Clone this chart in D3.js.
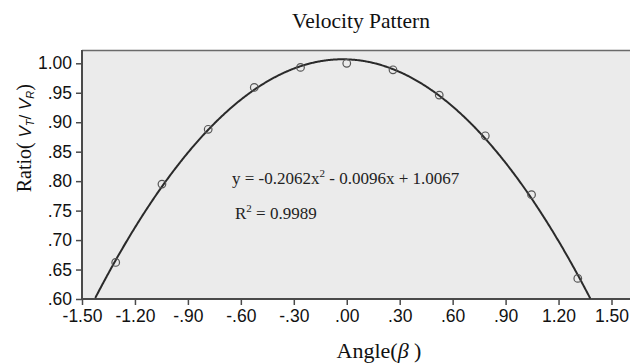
<!DOCTYPE html>
<html>
<head>
<meta charset="utf-8">
<script src="https://cdn.jsdelivr.net/npm/d3@7"></script>
<style>
  html, body { margin: 0; padding: 0; background: #fff; }
  svg { display: block; }
</style>
</head>
<body>
<svg id="chart" width="630" height="363"></svg>
<script>
// Measured velocity ratio at each angle (radians, 15° steps)
const angles = [-1.309, -1.047, -0.785, -0.524, -0.262, 0.0, 0.262, 0.524, 0.785, 1.047, 1.309];
const ratios = [0.662, 0.795, 0.888, 0.959, 0.993, 1.000, 0.989, 0.946, 0.877, 0.777, 0.635];

// Quadratic trend line coefficients as printed on the chart
const fitCoef = [-0.2062, -0.0096, 1.0067];
const rSquared = 0.9989;

const xTicks = [-1.5, -1.2, -0.9, -0.6, -0.3, 0, 0.3, 0.6, 0.9, 1.2, 1.5];
const yTicks = [0.60, 0.65, 0.70, 0.75, 0.80, 0.85, 0.90, 0.95, 1.00];

const fmt = v => {
  const s = Math.abs(v).toFixed(2);
  const t = Math.abs(v) < 1 ? s.slice(1) : s;
  return (v < 0 ? "-" : "") + t;
};

const svg = d3.select("#chart");
const plotL = 82, plotR = 640, plotT = 50, plotB = 299;

const x = d3.scaleLinear().domain([-1.5, 1.5]).range([plotL, 611.5]);
const y = d3.scaleLinear().domain([0.6, 1.0]).range([plotB, 63.3]);

// plot background
svg.append("rect")
  .attr("x", plotL).attr("y", plotT)
  .attr("width", plotR - plotL).attr("height", plotB - plotT)
  .attr("fill", "#ebebeb");

// top frame line
svg.append("line")
  .attr("x1", plotL).attr("x2", plotR)
  .attr("y1", plotT + 0.5).attr("y2", plotT + 0.5)
  .attr("stroke", "#6a6a6a").attr("stroke-width", 1.5);

const sans = "'Liberation Sans', Arial, sans-serif";
const serif = "'Liberation Serif', 'Times New Roman', serif";

// y axis
const yAxis = svg.append("g")
  .attr("transform", `translate(${plotL},0)`)
  .call(d3.axisLeft(y).tickValues(yTicks).tickFormat(fmt).tickSize(6).tickPadding(4));
yAxis.select(".domain").attr("d", `M0,${plotT}V${plotB}`);

// x axis
const xAxis = svg.append("g")
  .attr("transform", `translate(0,${plotB})`)
  .call(d3.axisBottom(x).tickValues(xTicks).tickFormat(fmt).tickSize(6).tickPadding(5));
xAxis.select(".domain").attr("d", `M${plotL},0H${plotR}`);

[yAxis, xAxis].forEach(g => {
  g.selectAll(".domain").attr("stroke", "#4a4a4a").attr("stroke-width", 2);
  g.selectAll(".tick line").attr("stroke", "#4a4a4a").attr("stroke-width", 1.5);
  g.selectAll(".tick text")
    .attr("fill", "#111")
    .style("font-family", sans)
    .style("font-size", "17.5px");
});

// fitted curve
const f = v => fitCoef[0] * v * v + fitCoef[1] * v + fitCoef[2];
const xs = d3.range(-1.5, 1.5001, 0.005).filter(v => f(v) >= 0.6);
svg.append("clipPath").attr("id", "plotClip")
  .append("rect").attr("x", plotL).attr("y", plotT)
  .attr("width", plotR - plotL).attr("height", plotB - plotT);
svg.append("path")
  .datum(xs)
  .attr("clip-path", "url(#plotClip)")
  .attr("fill", "none")
  .attr("stroke", "#2a2a2a")
  .attr("stroke-width", 2)
  .attr("d", d3.line().x(d => x(d)).y(d => y(f(d))).curve(d3.curveMonotoneX));

// observations
svg.append("g").selectAll("circle")
  .data(angles.map((a, i) => [a, ratios[i]]))
  .join("circle")
  .attr("cx", d => x(d[0]))
  .attr("cy", d => y(d[1]))
  .attr("r", 3.8)
  .attr("fill", "none")
  .attr("stroke", "#555")
  .attr("stroke-width", 1.2);

// title
svg.append("text")
  .attr("x", 361).attr("y", 28)
  .attr("text-anchor", "middle")
  .style("font-family", serif).style("font-size", "21.5px")
  .attr("fill", "#111")
  .text("Velocity Pattern");

// equation annotation
const eq = svg.append("text")
  .attr("x", 232).attr("y", 184)
  .style("font-family", serif).style("font-size", "17px")
  .attr("fill", "#222");
const c = fitCoef;
const sgn = v => (v < 0 ? " - " : " + ");
eq.append("tspan").text(`y = ${c[0].toFixed(4)}x`);
eq.append("tspan").attr("dy", -7).style("font-size", "11px").text("2");
eq.append("tspan").attr("dy", 7).text(`${sgn(c[1])}${Math.abs(c[1]).toFixed(4)}x${sgn(c[2])}${c[2].toFixed(4)}`);

const r2 = svg.append("text")
  .attr("x", 235).attr("y", 219)
  .style("font-family", serif).style("font-size", "17px")
  .attr("fill", "#222");
r2.append("tspan").text("R");
r2.append("tspan").attr("dy", -7).style("font-size", "11px").text("2");
r2.append("tspan").attr("dy", 7).text(` = ${rSquared.toFixed(4)}`);

// x axis title
const xt = svg.append("text")
  .attr("x", 379).attr("y", 358)
  .attr("text-anchor", "middle")
  .style("font-family", serif).style("font-size", "22px")
  .attr("fill", "#111");
xt.append("tspan").text("Angle(");
xt.append("tspan").style("font-style", "italic").text("β");
xt.append("tspan").text(" )");

// y axis title
const yt = svg.append("text")
  .attr("transform", "translate(31,84) rotate(-90)")
  .attr("text-anchor", "end")
  .style("font-family", serif).style("font-size", "20px")
  .attr("fill", "#111");
yt.append("tspan").text("Ratio(");
yt.append("tspan").style("font-family", sans).style("font-style", "italic").style("font-size", "17px").text(" V");
yt.append("tspan").attr("dy", 3).style("font-family", sans).style("font-style", "italic").style("font-size", "11px").text("T");
yt.append("tspan").attr("dy", -3).style("font-family", sans).style("font-size", "17px").text("/ ");
yt.append("tspan").style("font-family", sans).style("font-style", "italic").style("font-size", "17px").text("V");
yt.append("tspan").attr("dy", 3).style("font-family", sans).style("font-style", "italic").style("font-size", "11px").text("R");
yt.append("tspan").attr("dy", -3).text(")");
</script>
</body>
</html>
